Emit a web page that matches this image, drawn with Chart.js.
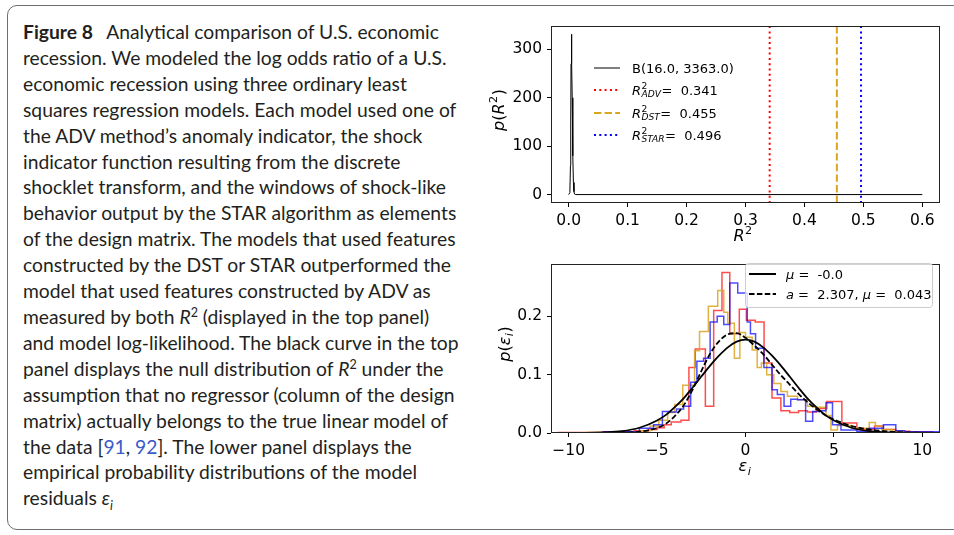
<!DOCTYPE html>
<html>
<head>
<meta charset="utf-8">
<script src="https://cdn.jsdelivr.net/npm/chart.js@4.4.1/dist/chart.umd.min.js"></script>
<style>
  html, body { margin: 0; padding: 0; background: #fff; }
  body { width: 954px; height: 535px; position: relative; overflow: hidden; }
  .frame {
    position: absolute; left: 7px; top: 5px; width: 1000px; height: 523px;
    border: 1px solid #6d6e71; border-radius: 10px;
  }
  .caption {
    position: absolute; left: 23px; top: 19px;
    font-family: Lato, sans-serif; font-size: 19.3px; line-height: 25.9px;
    color: #231f20; white-space: nowrap;
  }
  .caption b { font-weight: 700; margin-right: 9px; }
  .caption sup, .caption sub { font-size: 0.65em; line-height: 0; }
  .cite { color: #3a5bc7; }
  canvas { position: absolute; }
</style>
</head>
<body>
<div class="frame"></div>
<div class="caption">
  <b>Figure 8</b> Analytical comparison of U.S. economic<br>
  recession. We modeled the log odds ratio of a U.S.<br>
  economic recession using three ordinary least<br>
  squares regression models. Each model used one of<br>
  the ADV method’s anomaly indicator, the shock<br>
  indicator function resulting from the discrete<br>
  shocklet transform, and the windows of shock-like<br>
  behavior output by the STAR algorithm as elements<br>
  of the design matrix. The models that used features<br>
  constructed by the DST or STAR outperformed the<br>
  model that used features constructed by ADV as<br>
  measured by both <i>R</i><sup>2</sup> (displayed in the top panel)<br>
  and model log-likelihood. The black curve in the top<br>
  panel displays the null distribution of <i>R</i><sup>2</sup> under the<br>
  assumption that no regressor (column of the design<br>
  matrix) actually belongs to the true linear model of<br>
  the data [<span class="cite">91</span>, <span class="cite">92</span>]. The lower panel displays the<br>
  empirical probability distributions of the model<br>
  residuals <i>ε<sub>i</sub></i>
</div>
<canvas id="r2Chart" width="474" height="240" style="left:480px;top:10px"></canvas>
<canvas id="residChart" width="474" height="235" style="left:480px;top:250px"></canvas>

<script>
// Null distribution of R^2, B(16, 3363)
const betaX = [0, 0.002, 0.003, 0.0035, 0.004, 0.0045, 0.005, 0.0055, 0.006, 0.007, 0.008, 0.009, 0.010, 0.012, 0.6];
const betaY = [0, 4, 60, 150, 270, 331, 320, 270, 200, 80, 25, 6, 1, 0, 0];

// Observed R^2 of each model
const r2Names = ['ADV', 'DST', 'STAR'];
const r2Values = [0.341, 0.455, 0.496];

// Residual histograms (bin edges and densities)
const advEdges = [-10.6, -8.1, -6.3, -5.5, -5.0, -4.6, -4.2, -3.65, -3.2, -2.84, -2.27, -1.8, -1.33, -0.89, -0.35, 0.05, 0.55, 1.05, 1.5, 2.0, 2.5, 3.0, 3.5, 4.0, 4.6, 5.45, 6.3, 7.3, 7.8, 8.5, 9.3, 10.6];
const advHeights = [0.001, 0.002, 0.004, 0.006, 0.009, 0.014, 0.019, 0.022, 0.112, 0.144, 0.046, 0.21, 0.275, 0.17, 0.212, 0.193, 0.19, 0.12, 0.06, 0.038, 0.035, 0.038, 0.036, 0.042, 0.054, 0.017, 0.006, 0.012, 0.006, 0.003, 0.002];

const dstEdges = [-9.0, -6.0, -5.4, -4.9, -4.4, -4.0, -3.55, -2.88, -2.6, -2.1, -1.57, -1.23, -1.0, -0.63, -0.32, 0.0, 0.38, 0.66, 0.9, 1.2, 1.6, 2.0, 2.37, 2.94, 3.5, 3.9, 4.55, 4.83, 5.2, 6.0, 7.0, 7.35, 7.7, 8.3, 9.0, 10.2];
const dstHeights = [0.001, 0.004, 0.012, 0.022, 0.035, 0.049, 0.082, 0.141, 0.174, 0.217, 0.244, 0.207, 0.188, 0.128, 0.172, 0.164, 0.142, 0.112, 0.12, 0.10, 0.085, 0.071, 0.063, 0.057, 0.046, 0.044, 0.03, 0.005, 0.013, 0.008, 0.018, 0.012, 0.006, 0.003, 0.001];

const starEdges = [-8.0, -6.0, -5.2, -4.7, -4.26, -3.9, -3.5, -3.1, -2.75, -2.37, -2.0, -1.6, -1.23, -0.89, -0.44, 0.1, 0.28, 0.57, 1.04, 1.5, 1.8, 2.18, 2.56, 2.94, 3.4, 3.8, 4.17, 4.55, 4.92, 5.4, 6.3, 7.0, 7.8, 8.5, 9.0, 11.0];
const starHeights = [0.002, 0.008, 0.014, 0.037, 0.036, 0.041, 0.046, 0.087, 0.123, 0.128, 0.19, 0.2, 0.186, 0.257, 0.24, 0.19, 0.17, 0.145, 0.112, 0.074, 0.066, 0.046, 0.058, 0.057, 0.02, 0.037, 0.038, 0.052, 0.014, 0.005, 0.003, 0.008, 0.014, 0.004, 0.002];

// Fitted densities
const normalX = [-10, -9, -8, -7, -6, -5, -4.5, -4, -3.5, -3, -2.5, -2, -1.5, -1, -0.5, 0, 0.5, 1, 1.5, 2, 2.5, 3, 3.5, 4, 4.5, 5, 6, 7, 8, 9, 10];
const normalY = [0.0001, 0.0002, 0.001, 0.0031, 0.009, 0.0215, 0.031, 0.0443, 0.0594, 0.0776, 0.0967, 0.1155, 0.1325, 0.1467, 0.1565, 0.16, 0.1565, 0.1467, 0.1325, 0.1155, 0.0967, 0.0776, 0.0594, 0.0443, 0.031, 0.0215, 0.009, 0.0031, 0.001, 0.0002, 0.0001];
const skewX = [-8, -7, -6, -5.5, -5, -4.5, -4, -3.5, -3, -2.5, -2, -1.5, -1, -0.5, 0, 0.5, 1, 1.5, 2, 2.5, 3, 3.5, 4, 4.5, 5, 5.5, 6, 7, 8, 9, 10];
const skewY = [0.0001, 0.0004, 0.0022, 0.0045, 0.0085, 0.016, 0.029, 0.047, 0.074, 0.106, 0.136, 0.157, 0.169, 0.171, 0.163, 0.15, 0.135, 0.117, 0.099, 0.083, 0.067, 0.053, 0.041, 0.031, 0.023, 0.017, 0.012, 0.006, 0.0027, 0.0011, 0.0004];

// Axis ticks
const topXTicks = [0, 0.1, 0.2, 0.3, 0.4, 0.5, 0.6];
const topYTicks = [0, 100, 200, 300];
const bottomXTicks = [-10, -5, 0, 5, 10];
const bottomYTicks = [0, 0.1, 0.2];

const MATH_FONT = '"DejaVu Sans"';
const RED = '#ff0000';
const GOLD = '#daa520';
const BLUE = '#0000ff';

function toPoints(xs, ys) {
    return xs.map((x, i) => ({ x: x, y: ys[i] }));
}

// Outline of a step histogram, closed down to zero at both ends
function stepPoints(edges, heights) {
    const pts = [{ x: edges[0], y: 0 }];
    heights.forEach((h, i) => pts.push({ x: edges[i], y: h }));
    pts.push({ x: edges[edges.length - 1], y: 0 });
    return pts;
}

// Draw a run of text pieces; pieces can be italic, or carry a sup/sub pair
function drawRich(ctx, segs, x, y, size, align) {
    const font = (it, s) => (it ? 'italic ' : '') + s + 'px ' + MATH_FONT;
    const small = size * 0.7;
    const widthOf = seg => {
        if (seg.t !== undefined) {
            ctx.font = font(seg.it, size);
            return ctx.measureText(seg.t).width;
        }
        ctx.font = font(false, small);
        const a = seg.sup ? ctx.measureText(seg.sup).width : 0;
        ctx.font = font(true, small);
        const b = seg.sub ? ctx.measureText(seg.sub).width : 0;
        return Math.max(a, b) + 1;
    };
    const total = segs.reduce((s, seg) => s + widthOf(seg), 0);
    let cx = align === 'center' ? x - total / 2 : x;
    ctx.fillStyle = '#000';
    ctx.textBaseline = 'alphabetic';
    ctx.textAlign = 'left';
    segs.forEach(seg => {
        const w = widthOf(seg);
        if (seg.t !== undefined) {
            ctx.font = font(seg.it, size);
            ctx.fillText(seg.t, cx, y);
        } else {
            if (seg.sup) {
                ctx.font = font(false, small);
                ctx.fillText(seg.sup, cx + 0.5, y - size * 0.42);
            }
            if (seg.sub) {
                ctx.font = font(true, small);
                ctx.fillText(seg.sub, cx + 0.5, y + size * 0.22);
            }
        }
        cx += w;
    });
}

function drawRotated(ctx, segs, x, y, size) {
    ctx.save();
    ctx.translate(x, y);
    ctx.rotate(-Math.PI / 2);
    drawRich(ctx, segs, 0, size * 0.35, size, 'center');
    ctx.restore();
}

function legendLine(ctx, x1, x2, y, color, width, dash) {
    ctx.save();
    ctx.strokeStyle = color;
    ctx.lineWidth = width;
    ctx.setLineDash(dash);
    ctx.beginPath();
    ctx.moveTo(x1, y);
    ctx.lineTo(x2, y);
    ctx.stroke();
    ctx.restore();
}

// Box around the axes, titles and legends
function annotations(kind) {
    return {
        id: 'annotations_' + kind,
        afterDraw(chart) {
            const ctx = chart.ctx;
            const a = chart.chartArea;
            ctx.save();
            ctx.strokeStyle = '#222';
            ctx.lineWidth = 1;
            ctx.strokeRect(Math.round(a.left) + 0.5, Math.round(a.top) + 0.5,
                Math.round(a.right - a.left) - 1, Math.round(a.bottom - a.top) - 1);

            if (kind === 'top') {
                drawRotated(ctx, [{ t: 'p', it: true }, { t: '(' }, { t: 'R', it: true }, { sup: '2' }, { t: ')' }], 18, 100, 16);
                drawRich(ctx, [{ t: 'R', it: true }, { sup: '2' }], 263, 231, 16, 'center');

                const rows = [58, 80, 103, 125];
                legendLine(ctx, 114, 140, rows[0], '#000', 1, []);
                drawRich(ctx, [{ t: 'B(16.0, 3363.0)' }], 152, rows[0] + 4.5, 13, 'left');
                const styles = [[RED, [2, 3.3]], [GOLD, [7.4, 3.2]], [BLUE, [2, 3.3]]];
                r2Values.forEach((v, i) => {
                    legendLine(ctx, 114, 140, rows[i + 1], styles[i][0], 2, styles[i][1]);
                    drawRich(ctx, [{ t: 'R', it: true }, { sup: '2', sub: r2Names[i] }, { t: '=  ' + v.toFixed(3) }],
                        152, rows[i + 1] + 4.5, 13, 'left');
                });
            } else {
                drawRotated(ctx, [{ t: 'p', it: true }, { t: '(' }, { t: 'ε', it: true }, { sub: 'i' }, { t: ')' }], 24, 94, 16);
                drawRich(ctx, [{ t: 'ε', it: true }, { sub: 'i' }], 265, 221, 16, 'center');

                // framed legend
                ctx.fillStyle = 'rgba(255,255,255,0.8)';
                ctx.strokeStyle = '#cccccc';
                ctx.beginPath();
                ctx.roundRect(265.5, 13.5, 187, 44, 3);
                ctx.fill();
                ctx.stroke();
                legendLine(ctx, 269, 296, 24, '#000', 2, []);
                drawRich(ctx, [{ t: 'μ', it: true }, { t: ' =  -0.0' }], 306, 28.5, 13, 'left');
                legendLine(ctx, 269, 296, 44, '#000', 2, [5.5, 2.4]);
                drawRich(ctx, [{ t: 'a', it: true }, { t: ' =  2.307, ' }, { t: 'μ', it: true }, { t: ' =  0.043' }], 306, 48.5, 13, 'left');
            }
            ctx.restore();
        }
    };
}

function axisStyle(ticks, fmt, min, max, size) {
    return {
        type: 'linear',
        min: min,
        max: max,
        afterBuildTicks: scale => { scale.ticks = ticks.map(v => ({ value: v })); },
        afterFit: scale => {
            if (scale.isHorizontal()) scale.height = size; else scale.width = size;
        },
        grid: { display: true, drawOnChartArea: false, drawTicks: true, tickLength: 4, color: '#000' },
        border: { display: false },
        ticks: {
            color: '#000',
            padding: 5,
            maxRotation: 0,
            autoSkip: false,
            font: { family: 'DejaVu Sans', size: 15.5 },
            callback: fmt
        }
    };
}

const commonOptions = {
    responsive: false,
    animation: false,
    events: [],
    elements: { point: { radius: 0 } },
    plugins: { legend: { display: false }, tooltip: { enabled: false } }
};

function initCharts() {
    // Top panel: R^2 null distribution and observed values
    const vLines = r2Values.map((v, i) => ({
        data: [{ x: v, y: -17.4 }, { x: v, y: 348 }],
        borderColor: [RED, GOLD, BLUE][i],
        borderWidth: 2,
        borderDash: i === 1 ? [7.4, 3.2] : [2, 3.3],
        borderCapStyle: 'butt'
    }));

    new Chart(document.getElementById('r2Chart'), {
        type: 'line',
        data: {
            datasets: [
                { data: toPoints(betaX, betaY), borderColor: '#000', borderWidth: 1, tension: 0 },
                ...vLines
            ]
        },
        options: {
            ...commonOptions,
            layout: { padding: { top: 16, right: 14, left: 0, bottom: 0 } },
            scales: {
                x: axisStyle(topXTicks, v => v.toFixed(1), -0.03, 0.63, 47),
                y: axisStyle(topYTicks, v => String(v), -17.4, 348, 71)
            }
        },
        plugins: [annotations('top')]
    });

    // Bottom panel: residual histograms with fitted densities
    new Chart(document.getElementById('residChart'), {
        type: 'line',
        data: {
            datasets: [
                { data: toPoints(normalX, normalY), borderColor: '#000', borderWidth: 1.8, cubicInterpolationMode: 'monotone' },
                { data: toPoints(skewX, skewY), borderColor: '#000', borderWidth: 1.8, borderDash: [5.5, 2.4], cubicInterpolationMode: 'monotone' },
                { data: stepPoints(starEdges, starHeights), borderColor: 'rgba(0,0,255,0.7)', borderWidth: 1.5, stepped: 'before' },
                { data: stepPoints(dstEdges, dstHeights), borderColor: 'rgba(218,165,32,0.85)', borderWidth: 1.5, stepped: 'before' },
                { data: stepPoints(advEdges, advHeights), borderColor: 'rgba(255,0,0,0.7)', borderWidth: 1.5, stepped: 'before' }
            ]
        },
        options: {
            ...commonOptions,
            layout: { padding: { top: 7, right: 14, left: 0, bottom: 0 } },
            scales: {
                x: axisStyle(bottomXTicks, v => String(v).replace('-', '\u2212'), -11, 11, 52),
                y: axisStyle(bottomYTicks, v => v.toFixed(1), 0, 0.289, 71)
            }
        },
        plugins: [annotations('bottom')]
    });
}

document.addEventListener('DOMContentLoaded', initCharts);
</script>
</body>
</html>
